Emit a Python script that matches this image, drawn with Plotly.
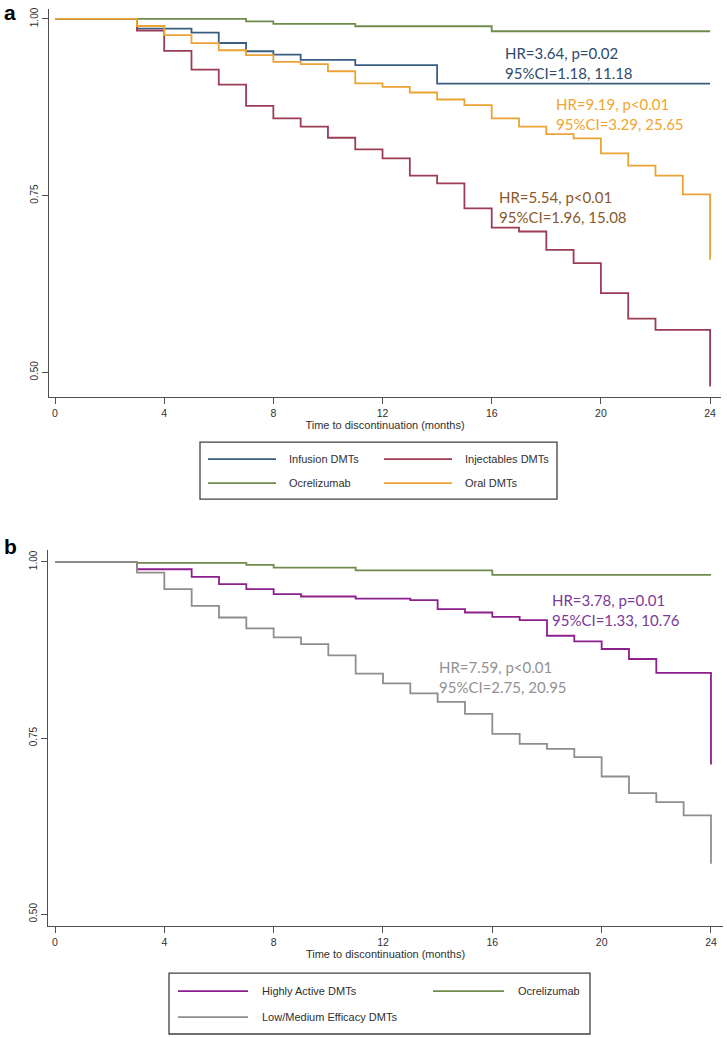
import plotly.graph_objects as go

# ---------------- data ----------------
months_ticks = [0, 4, 8, 12, 16, 20, 24]
y_ticks = [0.50, 0.75, 1.00]
y_tick_labels = ["0.50", "0.75", "1.00"]

# Panel a
infusion_t = [0, 3, 5, 6, 7, 8, 9, 11, 14, 24]
infusion_s = [1.0, 0.9864, 0.9807, 0.966, 0.9543, 0.9496, 0.942, 0.9346, 0.9086, 0.9086]

inject_t = [0, 3, 4, 5, 6, 7, 8, 9, 10, 11, 12, 13, 14, 15, 16, 17, 18, 19, 20, 21, 22, 24, 24]
inject_s = [1.0, 0.9835, 0.9548, 0.9284, 0.9072, 0.8771, 0.8592, 0.8475, 0.8319, 0.8154, 0.8027,
            0.7782, 0.7674, 0.732, 0.7048, 0.6992, 0.6733, 0.6544, 0.612, 0.576, 0.560, 0.560, 0.480]

ocre_a_t = [0, 7, 8, 11, 16, 24]
ocre_a_s = [1.0, 0.9967, 0.993, 0.9897, 0.9826, 0.9826]

oral_t = [0, 3, 4, 5, 6, 7, 8, 9, 10, 11, 12, 13, 14, 15, 16, 17, 18, 19, 20, 21, 22, 23, 24, 24]
oral_s = [1.0, 0.990, 0.977, 0.9657, 0.9557, 0.9487, 0.9393, 0.936, 0.926, 0.9087, 0.904, 0.8959,
          0.886, 0.878, 0.8592, 0.8475, 0.8371, 0.8309, 0.8098, 0.7924, 0.7782, 0.7518, 0.7518, 0.6592]

# Panel b
high_t = [0, 3, 5, 6, 7, 8, 9, 11, 13, 14, 15, 16, 17, 18, 19, 20, 21, 22, 24, 24]
high_s = [1.0, 0.9896, 0.9788, 0.9684, 0.9613, 0.9542, 0.9509, 0.948, 0.9457, 0.933, 0.9282,
          0.922, 0.9174, 0.8952, 0.8872, 0.8764, 0.8622, 0.8424, 0.8424, 0.7125]

ocre_b_t = [0, 3, 7, 8, 11, 16, 24]
ocre_b_s = [1.0, 0.9986, 0.9958, 0.992, 0.988, 0.9816, 0.9816]

low_t = [0, 3, 4, 5, 6, 7, 8, 9, 10, 11, 12, 13, 14, 15, 16, 17, 18, 19, 20, 21, 22, 23, 24, 24]
low_s = [1.0, 0.9849, 0.9613, 0.9377, 0.9211, 0.9056, 0.8928, 0.8834, 0.8673, 0.8414, 0.8277,
         0.8135, 0.8013, 0.7843, 0.756, 0.7418, 0.7347, 0.7229, 0.6955, 0.6719, 0.6591, 0.6402,
         0.6402, 0.5718]

hr_texts_a = ["HR=3.64, p=0.02<br>95%CI=1.18, 11.18",
              "HR=9.19, p<0.01<br>95%CI=3.29, 25.65",
              "HR=5.54, p<0.01<br>95%CI=1.96, 15.08"]
hr_texts_b = ["HR=3.78, p=0.01<br>95%CI=1.33, 10.76",
              "HR=7.59, p<0.01<br>95%CI=2.75, 20.95"]

# ---------------- styling ----------------
W, H = 727, 1038
C_INF = "#3A5E80"
C_INJ = "#9A3D55"
C_OCR = "#6F8C4C"
C_ORAL = "#EBA336"
C_HIGH = "#8B1F8E"
C_LOW = "#8E8E8E"
AX = "#505050"
TXT = "#303030"
FONT = "Liberation Sans, Arial, sans-serif"
ANN_FONT = "Lato, Open Sans, sans-serif"


def px(x):
    return x / W


def py(y):
    return 1 - y / H


fig = go.Figure()


def add_curve(t, s, color, name, xa, ya):
    fig.add_trace(go.Scatter(x=t, y=s, mode="lines", line=dict(color=color, width=1.8, shape="hv"),
                             name=name, showlegend=False, xaxis=xa, yaxis=ya))


add_curve(infusion_t, infusion_s, C_INF, "Infusion DMTs", "x", "y")
add_curve(inject_t, inject_s, C_INJ, "Injectables DMTs", "x", "y")
add_curve(ocre_a_t, ocre_a_s, C_OCR, "Ocrelizumab", "x", "y")
add_curve(oral_t, oral_s, C_ORAL, "Oral DMTs", "x", "y")

add_curve(high_t, high_s, C_HIGH, "Highly Active DMTs", "x2", "y2")
add_curve(ocre_b_t, ocre_b_s, C_OCR, "Ocrelizumab", "x2", "y2")
add_curve(low_t, low_s, C_LOW, "Low/Medium Efficacy DMTs", "x2", "y2")

xcommon = dict(tickvals=months_ticks, showgrid=False, zeroline=False, showline=True,
               linecolor=AX, linewidth=1.2, ticks="outside", ticklen=6, tickcolor=AX,
               tickwidth=1.2, tickfont=dict(family=FONT, size=10.5, color=TXT))
ycommon = dict(tickvals=y_ticks, ticktext=y_tick_labels, showgrid=False, zeroline=False,
               showline=True, linecolor=AX, linewidth=1.2, ticks="outside", ticklen=6,
               tickcolor=AX, tickwidth=1.2, tickangle=-90,
               tickfont=dict(family=FONT, size=10, color=TXT))
xtitle = dict(text="Time to discontinuation (months)", font=dict(family=FONT, size=11, color=TXT),
              standoff=0)

fig.update_layout(
    width=W, height=H,
    margin=dict(l=0, r=0, t=0, b=0),
    paper_bgcolor="white", plot_bgcolor="white",
    xaxis=dict(domain=[px(49), px(721)], range=[-0.22, 24.40], anchor="y", title=xtitle, **xcommon),
    yaxis=dict(domain=[py(396), py(7)], range=[0.4647, 1.0141], anchor="x", **ycommon),
    xaxis2=dict(domain=[px(48), px(723)], range=[-0.256, 24.44], anchor="y2", title=xtitle, **xcommon),
    yaxis2=dict(domain=[py(926), py(549)], range=[0.483, 1.017], anchor="x2", **ycommon),
)

ann = []
# panel letters
ann.append(dict(x=px(2), y=py(11), xref="paper", yref="paper", text="<b>a</b>", showarrow=False,
                xanchor="left", yanchor="middle", font=dict(family=FONT, size=21, color="black")))
ann.append(dict(x=px(2), y=py(546), xref="paper", yref="paper", text="<b>b</b>", showarrow=False,
                xanchor="left", yanchor="middle", font=dict(family=FONT, size=21, color="black")))

# HR annotations
hr_a_pos = [(503, 61, "#2F4B6C"), (554, 112, "#F0A630"), (497, 205, "#8A5A2C")]
for txt, (x, y, c) in zip(hr_texts_a, hr_a_pos):
    ann.append(dict(x=px(x), y=py(y), xref="paper", yref="paper", text=txt, showarrow=False,
                    xanchor="left", yanchor="middle", align="left",
                    font=dict(family=ANN_FONT, size=15, color=c)))
hr_b_pos = [(550, 609, "#7A3A98"), (437, 676, "#929292")]
for txt, (x, y, c) in zip(hr_texts_b, hr_b_pos):
    ann.append(dict(x=px(x), y=py(y), xref="paper", yref="paper", text=txt, showarrow=False,
                    xanchor="left", yanchor="middle", align="left",
                    font=dict(family=ANN_FONT, size=15, color=c)))

shapes = []


def legend_box(x0, y0, x1, y1, items):
    shapes.append(dict(type="rect", xref="paper", yref="paper", x0=px(x0), x1=px(x1),
                       y0=py(y1), y1=py(y0), line=dict(color="#404040", width=1.3),
                       fillcolor="rgba(0,0,0,0)"))
    for (lx0, lx1, ly, tx, name, color) in items:
        shapes.append(dict(type="line", xref="paper", yref="paper", x0=px(lx0), x1=px(lx1),
                           y0=py(ly), y1=py(ly), line=dict(color=color, width=1.8)))
        ann.append(dict(x=px(tx), y=py(ly), xref="paper", yref="paper", text=name,
                        showarrow=False, xanchor="left", yanchor="middle",
                        font=dict(family=FONT, size=11, color=TXT)))


legend_box(200, 441, 557, 498, [
    (208, 276, 458, 287, "Infusion DMTs", C_INF),
    (384, 452, 458, 463, "Injectables DMTs", C_INJ),
    (208, 276, 482, 287, "Ocrelizumab", C_OCR),
    (384, 452, 482, 463, "Oral DMTs", C_ORAL),
])
legend_box(169, 973, 590, 1034, [
    (178, 248, 991, 260, "Highly Active DMTs", C_HIGH),
    (433, 504, 991, 516, "Ocrelizumab", C_OCR),
    (178, 248, 1017, 260, "Low/Medium Efficacy DMTs", C_LOW),
])

fig.update_layout(annotations=ann, shapes=shapes)
fig.write_html("out.html",
               config={"displayModeBar": False},
               post_script="document.body.style.margin='0px';document.body.style.padding='0px';"
                           "document.body.style.overflow='hidden';")
